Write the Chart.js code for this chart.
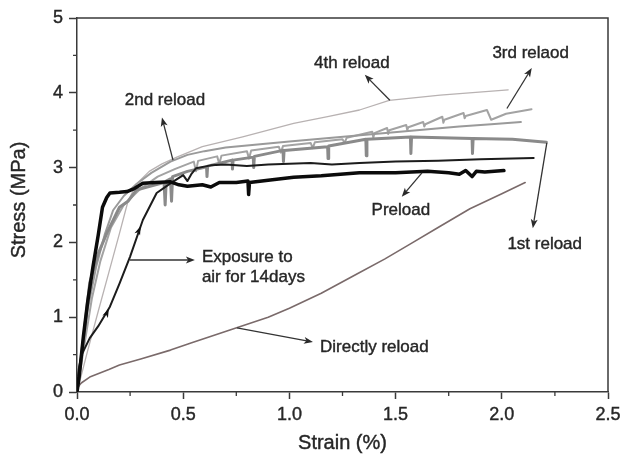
<!DOCTYPE html>
<html>
<head>
<meta charset="utf-8">
<script src="https://cdn.jsdelivr.net/npm/chart.js@4.4.1/dist/chart.umd.min.js"></script>
<style>
  html, body { margin: 0; padding: 0; background: #ffffff; }
  canvas { display: block; }
</style>
</head>
<body>
<canvas id="c" width="626" height="459"></canvas>
<script>
// Stress-strain curves: [strain (%), stress (MPa)]
const preload = [[0,0],[0.01,0.2],[0.03,0.74],[0.05,1.2],[0.075,1.67],[0.1,2.1],[0.12,2.47],[0.14,2.6],[0.155,2.66],[0.2,2.67],[0.235,2.68],[0.27,2.72],[0.31,2.79],[0.37,2.8],[0.44,2.81],[0.48,2.77],[0.52,2.75],[0.59,2.77],[0.63,2.74],[0.67,2.8],[0.75,2.8],[0.805,2.82],[0.808,2.64],[0.812,2.8],[0.9,2.83],[1.02,2.87],[1.15,2.89],[1.33,2.93],[1.5,2.93],[1.65,2.95],[1.75,2.93],[1.8,2.91],[1.83,2.96],[1.86,2.88],[1.88,2.95],[1.92,2.94],[2.01,2.96]];

const exposure14d = [[0,0],[0.008,0.3],[0.022,0.5],[0.06,0.72],[0.1,0.88],[0.155,1.14],[0.2,1.45],[0.25,1.81],[0.31,2.3],[0.375,2.66],[0.44,2.79],[0.5,2.9],[0.52,2.82],[0.54,2.92],[0.56,2.99],[0.63,3.03],[0.7,3.04],[0.8,3.02],[0.9,3.04],[1.0,3.05],[1.1,3.06],[1.2,3.04],[1.33,3.06],[1.5,3.08],[1.7,3.09],[1.9,3.11],[2.15,3.13]];

const reload1 = [[0,0],[0.01,0.25],[0.03,0.7],[0.06,1.46],[0.1,1.85],[0.14,2.12],[0.2,2.47],[0.24,2.55],[0.28,2.7],[0.33,2.74],[0.41,2.8],[0.415,2.5],[0.42,2.82],[0.44,2.85],[0.445,2.55],[0.45,2.88],[0.52,2.95],[0.61,3.01],[0.612,2.88],[0.615,3.02],[0.73,3.1],[0.732,2.98],[0.735,3.1],[0.83,3.14],[0.832,3.0],[0.835,3.15],[0.97,3.23],[0.972,3.08],[0.975,3.23],[1.18,3.28],[1.182,3.12],[1.185,3.29],[1.36,3.38],[1.362,3.16],[1.365,3.38],[1.57,3.41],[1.572,3.19],[1.575,3.41],[1.86,3.39],[1.862,3.19],[1.865,3.39],[2.05,3.38],[2.21,3.34]];

const reload2 = [[0,0],[0.02,0.45],[0.05,1.1],[0.09,1.67],[0.13,2.1],[0.17,2.43],[0.22,2.62],[0.28,2.78],[0.35,2.93],[0.44,3.08],[0.52,3.17],[0.6,3.22],[0.7,3.27],[0.85,3.31],[1.0,3.35],[1.2,3.4],[1.4,3.45],[1.6,3.5],[1.8,3.55],[1.95,3.58],[2.09,3.61]];

const reload3 = [[0,0],[0.03,0.55],[0.07,1.25],[0.11,1.75],[0.16,2.2],[0.22,2.5],[0.3,2.72],[0.38,2.88],[0.46,2.98],[0.55,3.08],[0.56,2.95],[0.57,3.09],[0.66,3.15],[0.67,3.05],[0.68,3.16],[0.8,3.22],[0.81,3.12],[0.82,3.23],[0.95,3.28],[0.96,3.2],[0.97,3.29],[1.1,3.33],[1.11,3.26],[1.12,3.34],[1.25,3.38],[1.26,3.33],[1.27,3.4],[1.39,3.48],[1.395,3.4],[1.4,3.46],[1.46,3.53],[1.465,3.45],[1.47,3.5],[1.55,3.57],[1.555,3.5],[1.56,3.54],[1.63,3.61],[1.635,3.55],[1.64,3.58],[1.72,3.68],[1.725,3.6],[1.73,3.64],[1.82,3.73],[1.825,3.66],[1.83,3.69],[1.93,3.77],[1.95,3.64],[2.02,3.72],[2.14,3.78]];

const reload4 = [[0,0],[0.05,0.55],[0.1,1.08],[0.15,1.6],[0.2,2.12],[0.24,2.55],[0.28,2.78],[0.34,2.95],[0.4,3.05],[0.47,3.14],[0.59,3.28],[0.78,3.41],[1.02,3.59],[1.18,3.68],[1.33,3.77],[1.47,3.9],[1.71,3.97],[2.03,4.04]];

const directReload = [[0,0.05],[0.02,0.12],[0.06,0.2],[0.15,0.3],[0.2,0.36],[0.3,0.44],[0.44,0.56],[0.54,0.66],[0.72,0.83],[0.9,1.0],[1.0,1.12],[1.15,1.32],[1.32,1.58],[1.45,1.78],[1.57,1.98],[1.7,2.2],[1.85,2.45],[2.0,2.65],[2.11,2.8]];

// Axis ticks
const xTicks = [0, 0.5, 1.0, 1.5, 2.0, 2.5];
const yTicks = [0, 1, 2, 3, 4, 5];
const xMinorTicks = [0.25, 0.75, 1.25, 1.75, 2.25];
const yMinorTicks = [0.5, 1.5, 2.5, 3.5, 4.5];

// Callout labels: text lines, text anchor, arrow from the curve to the label
const notes = [
  { lines: ['4th reload'], at: [1.294, 4.40], align: 'center', from: [1.473, 3.90], to: [1.355, 4.24] },
  { lines: ['2nd reload'], at: [0.414, 3.90], align: 'center', from: [0.452, 3.10], to: [0.400, 3.67] },
  { lines: ['3rd relaod'], at: [2.136, 4.53], align: 'center', from: [2.024, 3.79], to: [2.141, 4.33] },
  { lines: ['Preload'], at: [1.525, 2.43], align: 'center', from: [1.624, 2.93], to: [1.529, 2.61] },
  { lines: ['1st reload'], at: [2.202, 1.98], align: 'center', from: [2.212, 3.33], to: [2.146, 2.19] },
  { lines: ['Exposure to', 'air for 14days'], at: [0.588, 1.80], align: 'left', from: [0.249, 1.765], to: [0.555, 1.765] },
  { lines: ['Directly reload'], at: [1.144, 0.60], align: 'left', from: [0.753, 0.856], to: [1.111, 0.668] }
];
// Direction markers along the 14-day exposure curve
const exposureMarks = [0.15, 0.30];

const FONT = '"Liberation Sans", Arial, sans-serif';
const INK = '#262626';
const toXY = arr => arr.map(p => ({ x: p[0], y: p[1] }));

function arrow(ctx, x1, y1, x2, y2, len, half) {
  const a = Math.atan2(y2 - y1, x2 - x1);
  ctx.beginPath();
  ctx.moveTo(x1, y1);
  ctx.lineTo(x2 - Math.cos(a) * len * 0.7, y2 - Math.sin(a) * len * 0.7);
  ctx.stroke();
  head(ctx, x2, y2, a, len, half);
}
function head(ctx, x, y, a, len, half) {
  ctx.beginPath();
  ctx.moveTo(x, y);
  ctx.lineTo(x - Math.cos(a) * len - Math.sin(a) * half, y - Math.sin(a) * len + Math.cos(a) * half);
  ctx.lineTo(x - Math.cos(a) * len * 0.75, y - Math.sin(a) * len * 0.75);
  ctx.lineTo(x - Math.cos(a) * len + Math.sin(a) * half, y - Math.sin(a) * len - Math.cos(a) * half);
  ctx.closePath();
  ctx.fill();
}
function interp(arr, x) {
  for (let i = 1; i < arr.length; i++) {
    if (arr[i][0] >= x) {
      const [x0, y0] = arr[i - 1], [x1, y1] = arr[i];
      return y0 + (y1 - y0) * (x - x0) / (x1 - x0);
    }
  }
  return arr[arr.length - 1][1];
}
function heavyText(ctx, t, x, y) {
  ctx.strokeText(t, x, y);
  ctx.fillText(t, x, y);
}

const decor = {
  id: 'decor',
  afterDraw(chart) {
    const { ctx, chartArea: ca, scales: { x, y } } = chart;
    ctx.save();
    ctx.strokeStyle = '#3a3a3a';
    ctx.lineWidth = 1.5;
    // frame top and right
    ctx.beginPath();
    ctx.moveTo(ca.left, ca.top);
    ctx.lineTo(ca.right, ca.top);
    ctx.lineTo(ca.right, ca.bottom);
    ctx.stroke();
    // minor ticks
    ctx.lineWidth = 1.3;
    ctx.beginPath();
    xMinorTicks.forEach(v => { const px = x.getPixelForValue(v); ctx.moveTo(px, ca.bottom); ctx.lineTo(px, ca.bottom + 4); });
    yMinorTicks.forEach(v => { const py = y.getPixelForValue(v); ctx.moveTo(ca.left, py); ctx.lineTo(ca.left - 4, py); });
    ctx.stroke();

    // axis titles
    ctx.fillStyle = INK;
    ctx.strokeStyle = INK;
    ctx.lineWidth = 0.4;
    ctx.font = '20px ' + FONT;
    ctx.textAlign = 'center';
    ctx.textBaseline = 'middle';
    heavyText(ctx, 'Strain (%)', (ca.left + ca.right) / 2, 443);
    ctx.save();
    ctx.translate(19, 200);
    ctx.rotate(-Math.PI / 2);
    heavyText(ctx, 'Stress (MPa)', 0, 0);
    ctx.restore();

    // callouts
    ctx.font = '17px ' + FONT;
    notes.forEach(n => {
      ctx.strokeStyle = '#333333';
      ctx.fillStyle = '#2a2a2a';
      ctx.lineWidth = 1.3;
      arrow(ctx, x.getPixelForValue(n.from[0]), y.getPixelForValue(n.from[1]),
            x.getPixelForValue(n.to[0]), y.getPixelForValue(n.to[1]), 9, 3.5);
      ctx.textAlign = n.align;
      ctx.fillStyle = INK;
      ctx.strokeStyle = INK;
      ctx.lineWidth = 0.4;
      const tx = x.getPixelForValue(n.at[0]);
      const ty = y.getPixelForValue(n.at[1]);
      n.lines.forEach((t, i) => heavyText(ctx, t, tx, ty + i * 20));
    });

    // direction marks on the exposure curve
    ctx.fillStyle = '#111111';
    exposureMarks.forEach(s => {
      const px = x.getPixelForValue(s), py = y.getPixelForValue(interp(exposure14d, s));
      const qx = x.getPixelForValue(s + 0.02), qy = y.getPixelForValue(interp(exposure14d, s + 0.02));
      head(ctx, px, py, Math.atan2(qy - py, qx - px), 9, 3);
    });
    ctx.restore();
  }
};

const line = (data, color, width) => ({
  data: toXY(data), borderColor: color, borderWidth: width,
  showLine: true, pointRadius: 0, fill: false, tension: 0,
  borderJoinStyle: 'round', borderCapStyle: 'round'
});

new Chart(document.getElementById('c'), {
  type: 'scatter',
  data: {
    datasets: [
      line(preload, '#0b0b0b', 3.5),
      line(exposure14d, '#1c1c1c', 2),
      line(reload1, '#8a8a8a', 3),
      line(reload2, '#9a9a9a', 2),
      line(reload3, '#a3a3a3', 2),
      line(reload4, '#b8b2b2', 1.3),
      line(directReload, '#7a6a6a', 1.6)
    ]
  },
  options: {
    responsive: false,
    animation: false,
    events: [],
    layout: { padding: { top: 18, right: 18, left: 0, bottom: 0 } },
    plugins: { legend: { display: false }, tooltip: { enabled: false } },
    scales: {
      x: {
        type: 'linear', min: 0, max: 2.5,
        afterFit: s => { s.height = 67; },
        afterBuildTicks: s => { s.ticks = xTicks.map(v => ({ value: v })); },
        ticks: { callback: v => v.toFixed(1), color: INK, padding: 5,
                 textStrokeColor: INK, textStrokeWidth: 0.4,
                 font: { size: 18, family: FONT }, maxRotation: 0 },
        grid: { drawOnChartArea: false, tickLength: 7, tickColor: '#3a3a3a', tickWidth: 1.5 },
        border: { color: '#3a3a3a', width: 1.5 }
      },
      y: {
        type: 'linear', min: 0, max: 5,
        afterFit: s => { s.width = 77; },
        afterBuildTicks: s => { s.ticks = yTicks.map(v => ({ value: v })); },
        ticks: { callback: v => String(v), color: INK, padding: 6,
                 textStrokeColor: INK, textStrokeWidth: 0.4,
                 font: { size: 18, family: FONT } },
        grid: { drawOnChartArea: false, tickLength: 8, tickColor: '#3a3a3a', tickWidth: 1.5 },
        border: { color: '#3a3a3a', width: 1.5 }
      }
    }
  },
  plugins: [decor]
});
</script>
</body>
</html>
